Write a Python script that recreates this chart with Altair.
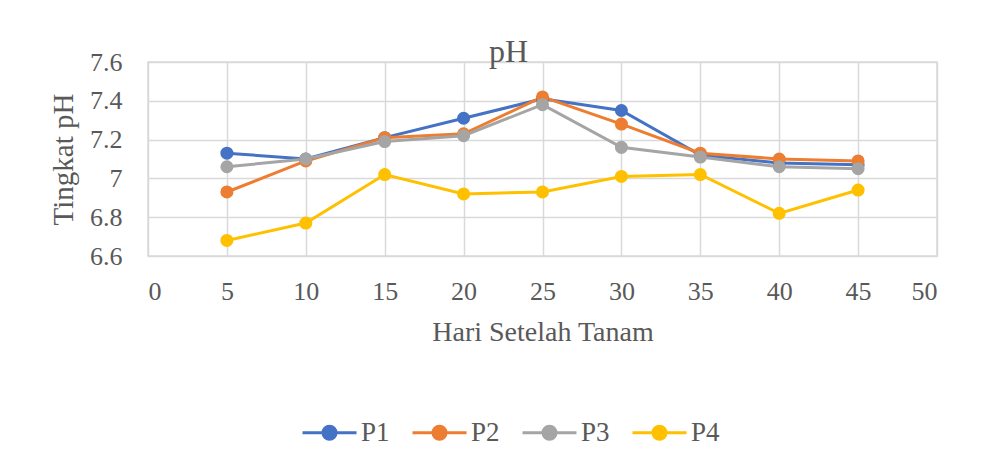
import altair as alt
import pandas as pd

days = [5, 10, 15, 20, 25, 30, 35, 40, 45]
p1 = [7.13, 7.10, 7.21, 7.31, 7.41, 7.35, 7.12, 7.08, 7.07]
p2 = [6.93, 7.09, 7.21, 7.23, 7.42, 7.28, 7.13, 7.10, 7.09]
p3 = [7.06, 7.10, 7.19, 7.22, 7.38, 7.16, 7.11, 7.06, 7.05]
p4 = [6.68, 6.77, 7.02, 6.92, 6.93, 7.01, 7.02, 6.82, 6.94]
series = ["P1", "P2", "P3", "P4"]
colors = ["#4472C4", "#ED7D31", "#A5A5A5", "#FFC000"]
x_ticks = [0, 5, 10, 15, 20, 25, 30, 35, 40, 45, 50]
y_ticks = [6.6, 6.8, 7.0, 7.2, 7.4, 7.6]

rows = []
for name, vals in zip(series, [p1, p2, p3, p4]):
    for d, v in zip(days, vals):
        rows.append({"Hari": d, "pH": v, "Seri": name})
df = pd.DataFrame(rows)

FONT = "Liberation Serif"
TXT = "#595959"

color = alt.Color(
    "Seri:N",
    scale=alt.Scale(domain=series, range=colors),
    legend=alt.Legend(
        title=None,
        orient="none",
        direction="horizontal",
        legendX=153,
        legendY=342,
        symbolType="M-1,0L1,0M-0.24,0A0.24,0.24 0 1,0 0.24,0A0.24,0.24 0 1,0 -0.24,0Z",
        symbolSize=2916,
        symbolStrokeWidth=3,
        labelFont=FONT,
        labelFontSize=27,
        labelColor=TXT,
        labelOffset=3,
        columnPadding=16,
    ),
)

x = alt.X(
    "Hari:Q",
    scale=alt.Scale(domain=[0, 50], nice=False),
    axis=alt.Axis(
        values=x_ticks,
        title="Hari Setelah Tanam",
        titleFontSize=28,
        grid=True,
        ticks=False,
        domain=False,
        labelPadding=22,
        titlePadding=14,
    ),
)
y = alt.Y(
    "pH:Q",
    scale=alt.Scale(domain=[6.6, 7.6], nice=False, zero=False),
    axis=alt.Axis(
        values=y_ticks,
        format="~g",
        title="Tingkat pH",
        titleFontSize=29,
        grid=True,
        ticks=False,
        domain=False,
        labelPadding=26,
        titlePadding=11,
    ),
)

base = alt.Chart(df).encode(x=x, y=y, color=color)
lines = base.mark_line(strokeWidth=3)
points = base.mark_point(filled=True, size=170, opacity=1)

chart = (
    alt.layer(lines, points)
    .properties(
        width=789,
        height=194,
        autosize=alt.AutoSizeParams(type="none"),
        padding={"left": 140, "top": 54, "right": 49, "bottom": 200},
        title=alt.TitleParams(
            "pH",
            font=FONT,
            fontSize=32,
            fontWeight="normal",
            color=TXT,
            anchor="middle",
            dx=-34,
            baseline="alphabetic",
            offset=-45,
        ),
    )
    .configure_axis(
        labelFont=FONT,
        labelFontSize=26,
        labelColor=TXT,
        titleFont=FONT,
        titleColor=TXT,
        titleFontWeight="normal",
        gridColor="#D9D9D9",
        gridWidth=1.5,
    )
    .configure_view(stroke="#D9D9D9", strokeWidth=1.5)
)

chart.save("out.html", embed_options={"renderer": "svg", "actions": False})
